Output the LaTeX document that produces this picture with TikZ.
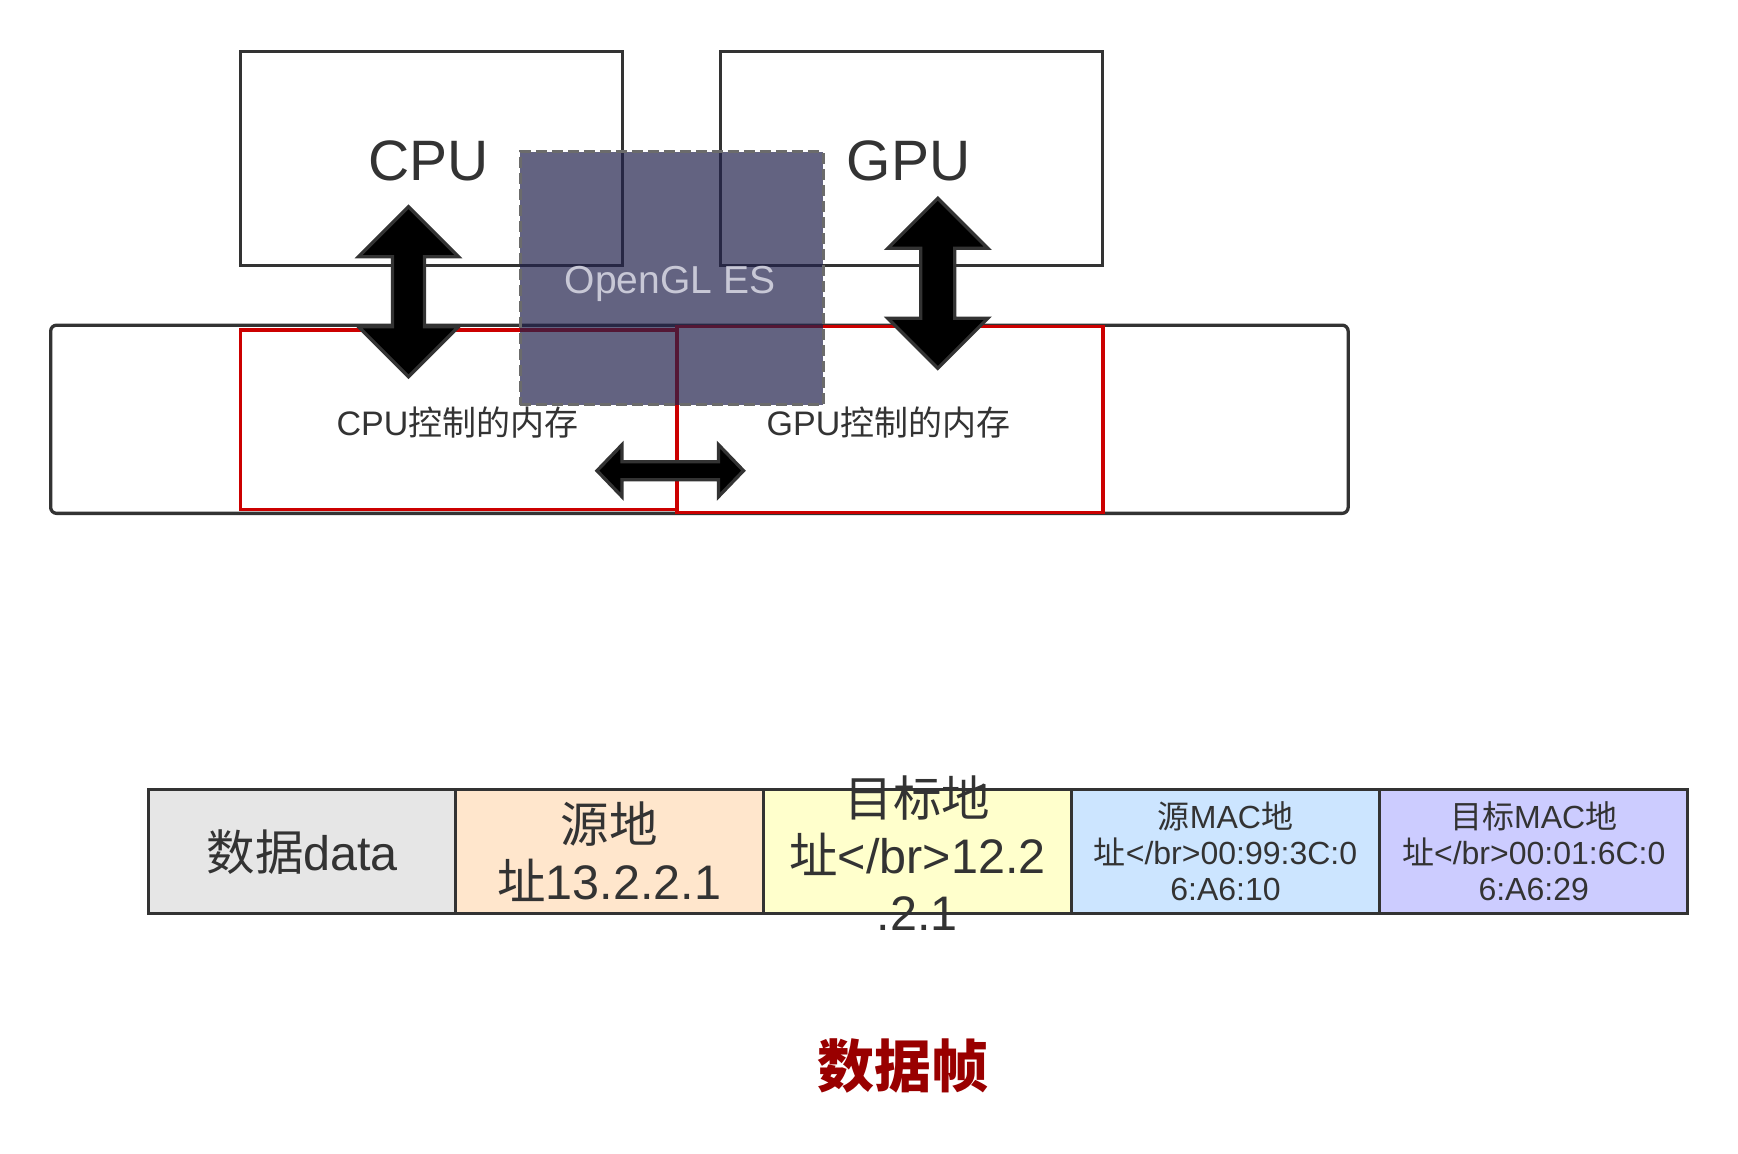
\documentclass[tikz,border=0pt]{standalone}
\usepackage{fontspec}
\setmainfont{Liberation Sans}
\newfontfamily\zhfont{Noto Sans CJK SC}
\newcommand{\zh}[1]{{\zhfont #1}}
\usetikzlibrary{calc}

\definecolor{ink}{HTML}{333333}
\definecolor{memred}{HTML}{CC0000}
\definecolor{glfill}{RGB}{34,34,76}
\definecolor{gledge}{HTML}{6B6B6B}
\definecolor{gltext}{RGB}{200,200,214}
\definecolor{cgray}{HTML}{E6E6E6}
\definecolor{corange}{HTML}{FFE6CC}
\definecolor{cyellow}{HTML}{FFFFCC}
\definecolor{cblue}{HTML}{CCE5FF}
\definecolor{cpurple}{HTML}{CCCCFF}
\definecolor{framered}{HTML}{990000}

% double-headed block arrow, vertical: top tip, total length, shaft half-width
\newcommand{\vfat}[3]{%
  \draw[fat] (#1) -- ++(50,50) -- ++({-(50-#3)},0) -- ++(0,{#2-100})
    -- ++({50-#3},0) -- ++(-50,50) -- ++(-50,-50) -- ++({50-#3},0)
    -- ++(0,{-(#2-100)}) -- ++({-(50-#3)},0) -- cycle;}

\begin{document}
\begin{tikzpicture}[x=1pt,y=-1pt,
  box/.style={draw=ink, line width=3.3pt, inner sep=0pt, anchor=north west},
  membox/.style={draw=memred, line width=3.3pt, inner sep=0pt, anchor=north west},
  fat/.style={fill=black, draw=ink, line width=3.3pt, line join=miter},
  cell/.style={draw=ink, line width=3.3pt, inner sep=0pt, anchor=north west,
    minimum width=308.1pt, minimum height=124pt},
  bigtxt/.style={text=ink, align=center, inner sep=0pt,
    font=\fontsize{48.5}{57}\selectfont},
  smalltxt/.style={text=ink, align=center, inner sep=0pt,
    font=\fontsize{32}{36}\selectfont},
  memtxt/.style={text=ink, inner sep=0pt, font=\fontsize{34}{40}\selectfont},
  unittxt/.style={text=ink, inner sep=0pt, font=\fontsize{57}{68}\selectfont}]
\useasboundingbox (0,0) rectangle (1738,1154);
\fill[white] (0,0) rectangle (1738,1154);

% shared memory and the two controlled regions
\node[box, rounded corners=6pt, minimum width=1297.5pt, minimum height=188.2pt] (mem) at (49,323.5) {};
\node[membox, minimum width=436.7pt, minimum height=179.2pt] (cpumem) at (238.5,328.3) {};
\node[membox, minimum width=426pt, minimum height=186pt] (gpumem) at (675.2,324.5) {};

% processors
\node[box, minimum width=382.5pt, minimum height=214.5pt] (cpu) at (238.5,49.5) {};
\node[box, minimum width=382.5pt, minimum height=214.5pt] (gpu) at (718.6,49.5) {};
\node[unittxt] (cpulabel) at (428.5,160.5) {CPU};
\node[unittxt] (gpulabel) at (908.5,160.5) {GPU};

\node[memtxt] (cpumemlabel) at (457.5,423) {CPU\zh{控制的内存}};
\node[memtxt] (gpumemlabel) at (888.5,423) {GPU\zh{控制的内存}};

% data paths
\coordinate (cpulink) at (408.5,206.7);
\coordinate (gpulink) at (937.8,198.3);
\coordinate (memlink) at (597,470.7);
\vfat{cpulink}{170}{16}
\vfat{gpulink}{170}{17}
\draw[fat] (memlink) -- ++(25,-26) -- ++(0,17) -- ++(96.5,0) -- ++(0,-17) -- ++(25,26)
  -- ++(-25,26) -- ++(0,-17) -- ++(-96.5,0) -- ++(0,17) -- cycle;

% API layer spanning both sides
\node[draw=gledge, line width=3.3pt, dash pattern=on 11pt off 5pt, fill=glfill, fill opacity=0.7,
  inner sep=0pt, anchor=north west, minimum width=303pt, minimum height=253pt] (gl) at (518.8,150) {};
\node[text=gltext, inner sep=0pt, font=\fontsize{39}{46}\selectfont] (gllabel) at (670,283.5) {OpenGL ES};

% frame layout
\node[cell, fill=cgray] (c1) at (146.5,788) {};
\node[cell, fill=corange] (c2) at (453.6,788) {};
\node[cell, fill=cyellow] (c3) at (761.7,788) {};
\node[cell, fill=cblue] (c4) at (1069.8,788) {};
\node[cell, fill=cpurple] (c5) at (1378,788) {};

\node[bigtxt] (t1) at (c1.center) {\zh{数据}data};
\node[bigtxt] (t2) at (c2.center) {\zh{源地}\\\zh{址}13.2.2.1};
\node[bigtxt] (t3) at ($(c3.center)+(0,1)$) {\zh{目标地}\\\zh{址}</br>12.2\\.2.1};
\node[smalltxt] (t4) at (c4.center) {\zh{源}MAC\zh{地}\\\zh{址}</br>00:99:3C:0\\6:A6:10};
\node[smalltxt] (t5) at (c5.center) {\zh{目标}MAC\zh{地}\\\zh{址}</br>00:01:6C:0\\6:A6:29};

\node[text=framered, inner sep=0pt, font=\zhfont\bfseries\fontsize{57}{68}\selectfont] (title) at (903,1066) {数据帧};
\end{tikzpicture}
\end{document}
